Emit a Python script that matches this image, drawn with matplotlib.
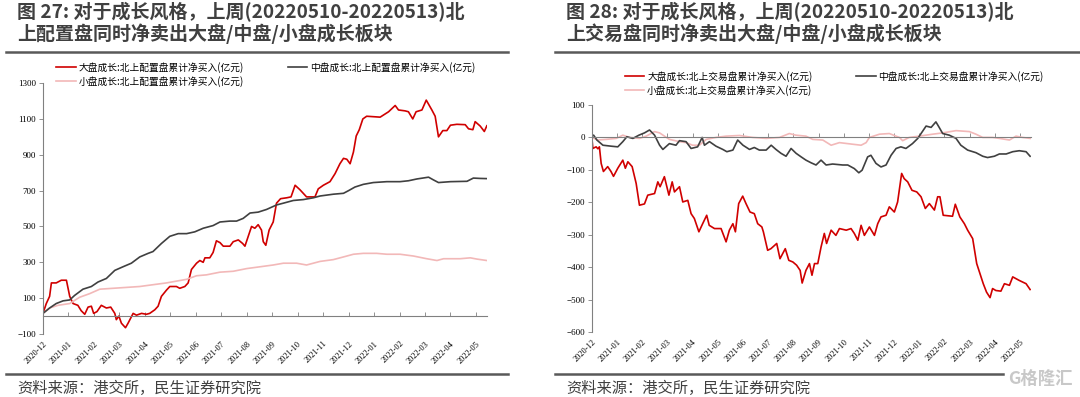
import matplotlib.pyplot as plt
import numpy as np

plt.rcParams['font.family'] = ['Noto Sans CJK SC', 'DejaVu Sans']

months = ['2020-12', '2021-01', '2021-02', '2021-03', '2021-04', '2021-05', '2021-06',
          '2021-07', '2021-08', '2021-09', '2021-10', '2021-11', '2021-12', '2022-01',
          '2022-02', '2022-03', '2022-04', '2022-05']

# x = months since 2020-12 (fractional), y = 亿元
# ---- 图27: 北上配置盘 ----
alloc_large_x = [0, 0.13, 0.26, 0.33, 0.52, 0.72, 0.92, 1.05, 1.18, 1.37, 1.5, 1.64, 1.77, 1.9, 1.99,
                 2.12, 2.29, 2.49, 2.66, 2.82, 2.88, 2.98, 3.08, 3.24, 3.34, 3.54, 3.67, 3.87, 4.06,
                 4.19, 4.39, 4.52, 4.65, 4.85, 4.98, 5.24, 5.37, 5.57, 5.7, 5.83, 6.03, 6.16, 6.29,
                 6.36, 6.55, 6.68, 6.81, 6.95, 7.08, 7.34, 7.47, 7.67, 7.84, 7.93, 8.06, 8.19, 8.32,
                 8.45, 8.58, 8.65, 8.75, 8.88, 9.04, 9.17, 9.33, 9.57, 9.74, 9.9, 10.09, 10.35, 10.68,
                 10.81, 11.01, 11.27, 11.47, 11.66, 11.8, 11.93, 12.06, 12.19, 12.3, 12.42, 12.56,
                 12.71, 13.24, 13.57, 13.83, 13.96, 14.22, 14.35, 14.52, 14.65, 14.88, 15.05, 15.27,
                 15.4, 15.53, 15.7, 15.86, 16.0, 16.25, 16.58, 16.71, 16.88, 16.97, 17.17, 17.33, 17.43]
alloc_large_y = [15, 70, 110, 185, 185, 200, 200, 110, 70, 60, 30, 10, 50, 55, 15,
                 25, 60, 45, 50, 15, -20, 0, -40, -65, -40, 15, 5, 15, 10,
                 15, 35, 55, 110, 145, 165, 165, 155, 165, 185, 260, 295, 310, 300,
                 325, 325, 355, 420, 410, 390, 390, 415, 425, 405, 390, 445, 500, 490,
                 510, 480, 415, 395, 480, 525, 630, 655, 660, 665, 730, 705, 665, 665,
                 710, 730, 750, 795, 850, 880, 875, 850, 915, 1005, 1040, 1100,
                 1115, 1110, 1140, 1175, 1150, 1145, 1140, 1100, 1140, 1150, 1205, 1150,
                 1115, 1000, 1035, 1035, 1065, 1070, 1068, 1045, 1040, 1085, 1060, 1030, 1062]

alloc_mid_x = [0, 0.26, 0.52, 0.79, 1.05, 1.24, 1.57, 1.9, 2.16, 2.49, 2.82, 3.14, 3.47, 3.8, 4.13,
               4.32, 4.65, 4.98, 5.31, 5.64, 5.96, 6.29, 6.68, 6.95, 7.34, 7.6, 7.86, 8.13, 8.45,
               8.78, 9.17, 9.44, 9.83, 10.22, 10.62, 10.88, 11.4, 11.8, 12.0, 12.25, 12.58, 12.97,
               13.5, 14.02, 14.35, 14.68, 15.14, 15.33, 15.53, 16.0, 16.65, 16.9, 17.17, 17.43]
alloc_mid_y = [15, 45, 70, 85, 90, 115, 150, 165, 190, 210, 255, 275, 295, 330, 350,
               360, 405, 445, 460, 460, 470, 490, 505, 525, 530, 530, 545, 575, 580,
               595, 620, 630, 645, 650, 660, 670, 680, 685, 700, 720, 735, 745,
               750, 750, 755, 765, 775, 760, 745, 750, 752, 770, 768, 767]

alloc_small_x = [0, 0.26, 0.59, 1.05, 1.44, 1.83, 2.23, 2.75, 3.28, 3.8, 4.32, 4.85, 5.24, 5.64,
                 6.03, 6.42, 6.95, 7.47, 8.0, 8.52, 9.04, 9.44, 9.96, 10.35, 10.88, 11.4, 11.8,
                 12.19, 12.58, 13.1, 13.5, 14.02, 14.55, 15.07, 15.47, 15.73, 16.38, 16.78, 17.04,
                 17.43]
alloc_small_y = [15, 45, 60, 70, 105, 125, 150, 155, 160, 165, 175, 185, 195, 205,
                 225, 230, 245, 250, 265, 275, 285, 295, 295, 285, 305, 315, 330,
                 345, 350, 350, 345, 345, 335, 320, 310, 320, 320, 325, 318,
                 310]

# ---- 图28: 北上交易盘 ----
trade_large_x = [0, 0.04, 0.17, 0.24, 0.3, 0.37, 0.46, 0.63, 0.76, 0.86, 1.03, 1.23, 1.33, 1.43, 1.6,
                 1.76, 1.89, 2.09, 2.22, 2.49, 2.62, 2.71, 2.88, 3.06, 3.19, 3.28, 3.48, 3.61, 3.81,
                 3.94, 4.07, 4.25, 4.4, 4.56, 4.66, 4.87, 5.13, 5.33, 5.46, 5.6, 5.7, 5.83, 5.99,
                 6.12, 6.28, 6.45, 6.585, 6.75, 6.81, 6.98, 7.11, 7.34, 7.47, 7.68, 7.82, 7.98, 8.13,
                 8.27, 8.35, 8.5, 8.64, 8.74, 8.84, 8.97, 9.1, 9.23, 9.32, 9.5, 9.69, 9.83, 10.1,
                 10.29, 10.42, 10.56, 10.69, 10.82, 11.02, 11.22, 11.35, 11.48, 11.68, 11.81, 12.01,
                 12.14, 12.3, 12.4, 12.54, 12.71, 12.9, 13.07, 13.24, 13.4, 13.6, 13.73, 13.82, 13.95,
                 14.32, 14.43, 14.61, 14.79, 14.92, 15.12, 15.28, 15.41, 15.54, 15.67, 15.81, 15.91,
                 16.04, 16.24, 16.38, 16.58, 16.71, 16.97, 17.24, 17.4]
trade_large_y = [0, -34, -29, -35, -29, -80, -105, -90, -105, -120, -95, -70, -95, -75, -90,
                 -142, -209, -205, -178, -173, -137, -152, -121, -178, -137, -168, -152, -199, -194,
                 -235, -250, -291, -266, -240, -271, -281, -281, -322, -286, -266, -291, -204, -181,
                 -204, -230, -235, -266, -276, -291, -348, -343, -327, -374, -343, -379, -384, -394,
                 -410, -449, -410, -389, -425, -389, -389, -338, -296, -327, -286, -302, -281, -286,
                 -281, -296, -317, -271, -302, -276, -302, -266, -245, -240, -214, -230,
                 -199, -111, -127, -137, -163, -168, -183, -219, -204, -224, -183, -183, -240,
                 -243, -206, -245, -266, -286, -312, -389, -420, -451, -477, -494, -466,
                 -472, -474, -451, -456, -430, -441, -451, -469]

trade_mid_x = [0, 0.07, 0.2, 0.44, 0.77, 1.03, 1.23, 1.39, 1.63, 1.87, 2.09, 2.29, 2.49, 2.69, 2.82,
               3.08, 3.34, 3.48, 3.74, 3.94, 4.2, 4.38, 4.47, 4.67, 4.93, 5.2, 5.36, 5.6, 5.79,
               6.0, 6.26, 6.45, 6.65, 6.92, 7.12, 7.31, 7.51, 7.71, 7.91, 8.11, 8.31, 8.5, 8.7,
               8.9, 9.1, 9.3, 9.56, 9.96, 10.16, 10.42, 10.6, 10.73, 10.95, 11.08, 11.28, 11.48,
               11.68, 11.88, 12.08, 12.27, 12.47, 12.73, 12.94, 13.07, 13.27, 13.47, 13.66, 13.79,
               13.93, 14.19, 14.46, 14.65, 14.92, 15.25, 15.52, 15.71, 15.98, 16.18, 16.45, 16.71,
               16.97, 17.24, 17.4]
trade_mid_y = [4, 7, -8, -24, -27, -29, -13, 2, -3, 7, 14, 23, 7, -24, -37,
               -19, -24, -10, -13, -34, -29, 0, -24, -13, -27, -37, -44, -39, -8,
               -24, -37, -31, -39, -39, -24, -37, -49, -58, -34, -49, -60, -70, -78,
               -85, -70, -85, -82, -85, -85, -96, -109, -101, -60, -55, -80, -91,
               -85, -55, -34, -29, -34, -19, -3, 12, 35, 31, 48, 31,
               12, 7, -3, -24, -39, -47, -58, -62, -58, -51, -51, -44,
               -41, -44, -58]

trade_small_x = [0, 0.24, 0.57, 0.97, 1.23, 1.5, 1.89, 2.16, 2.49, 2.69, 3.08, 3.48, 3.74, 4.0, 4.27,
                 4.54, 4.93, 5.33, 5.86, 6.39, 6.92, 7.45, 7.84, 8.1, 8.5, 8.77, 9.17, 9.5, 9.83,
                 10.36, 10.69, 10.89, 11.02, 11.42, 11.81, 12.21, 12.34, 12.6, 13.0, 13.53, 13.93,
                 14.46, 14.99, 15.25, 15.52, 15.91, 16.18, 16.58, 16.84, 17.1, 17.4]
trade_small_y = [0, -8, -6, -3, 7, 0, -3, 4, 18, 14, -6, -13, -16, -24, -24,
                 -6, 0, 4, 6, 0, -3, 0, 12, 7, 4, -6, -8, -24, -16,
                 -21, -24, -16, 0, 10, 12, 0, -10, 0, 4, 10, 14,
                 21, 18, 10, 0, 0, -3, -8, 4, 0, -3]

red = '#D00000'
grey = '#404040'
pink = '#F2B8B8'

fig = plt.figure(figsize=(10.8, 3.97), dpi=100)


def panel(ax, lx, ly, mx, my, sx, sy, ylim, ystep, kind):
    ax.plot(lx, ly, color=red, lw=1.2, label='大盘成长:北上%s累计净买入(亿元)' % kind)
    ax.plot(sx, sy, color=pink, lw=1.2, label='小盘成长:北上%s累计净买入(亿元)' % kind)
    ax.plot(mx, my, color=grey, lw=1.2, label='中盘成长:北上%s累计净买入(亿元)' % kind)
    ax.set_xlim(0, 17.43)
    ax.set_ylim(*ylim)
    ax.set_yticks(np.arange(ylim[0], ylim[1] + 1, ystep))
    for t in ax.get_yticklabels():
        t.set_family('Liberation Serif')
    ax.tick_params(axis='y', labelsize=6.5, length=3, width=0.6, color='#808080', pad=2)
    for s in ['top', 'right']:
        ax.spines[s].set_visible(False)
    ax.spines['left'].set_color('#808080')
    ax.spines['left'].set_linewidth(0.8)
    # x axis line sits at zero, tick labels at the bottom
    ax.spines['bottom'].set_position(('data', 0))
    ax.spines['bottom'].set_color('#808080')
    ax.spines['bottom'].set_linewidth(0.8)
    ax.set_xticks(range(len(months)))
    ax.tick_params(axis='x', direction='in', length=3, width=0.6, color='#808080', labelbottom=False)
    sec = ax.secondary_xaxis('bottom')
    sec.set_xticks(range(len(months)), months)
    sec.spines['bottom'].set_visible(False)
    sec.tick_params(length=0, pad=4, labelsize=6)
    for t in sec.get_xticklabels():
        t.set_rotation(45)
        t.set_ha('right')
        t.set_rotation_mode('anchor')
        t.set_family('Liberation Serif')


axl = fig.add_axes([0.0398, 0.1587, 0.411, 0.632])
panel(axl, alloc_large_x, alloc_large_y, alloc_mid_x, alloc_mid_y, alloc_small_x, alloc_small_y,
      (-100, 1300), 200, '配置盘')
axl.legend(ncol=2, loc='lower left', bbox_to_anchor=(0.03, 0.985), frameon=False, fontsize=7,
           handlelength=2.0, handletextpad=0.3, columnspacing=4.5, labelspacing=0.35,
           borderaxespad=0, borderpad=0)

axr = fig.add_axes([0.548, 0.1637, 0.4065, 0.5718])
panel(axr, trade_large_x, trade_large_y, trade_mid_x, trade_mid_y, trade_small_x, trade_small_y,
      (-600, 100), 100, '交易盘')
axr.legend(ncol=2, loc='lower left', bbox_to_anchor=(0.075, 1.04), frameon=False, fontsize=7,
           handlelength=2.0, handletextpad=0.3, columnspacing=4.5, labelspacing=0.35,
           borderaxespad=0, borderpad=0)

W, H = 1080, 397
title_l = '图 27: 对于成长风格，上周(20220510-20220513)北\n上配置盘同时净卖出大盘/中盘/小盘成长板块'
title_r = '图 28: 对于成长风格，上周(20220510-20220513)北\n上交易盘同时净卖出大盘/中盘/小盘成长板块'
for x0, ttl in [(17, title_l), (566, title_r)]:
    fig.text(x0 / W, 1 - 2 / H, ttl, ha='left', va='top', fontsize=13.7, fontweight='bold',
             color='#404040', linespacing=1.08)
    fig.text(x0 / W, 1 - 388 / H, '资料来源：港交所，民生证券研究院', ha='left', va='center',
             fontsize=11, color='#404040')

for xa, xb, xc in [(6, 508, 508), (555, 1080, 1003)]:
    fig.add_artist(plt.Line2D([xa / W, xb / W], [1 - 52 / H] * 2, color='#595959', lw=1.8))
    fig.add_artist(plt.Line2D([xa / W, xc / W], [1 - 374 / H] * 2, color='#595959', lw=1.8))

fig.text(1040 / W, 1 - 379 / H, 'G格隆汇', ha='center', va='center', fontsize=12.5,
         color='#C8C8C8', fontweight='bold')

fig.savefig('out.png', dpi=100, facecolor='white')
